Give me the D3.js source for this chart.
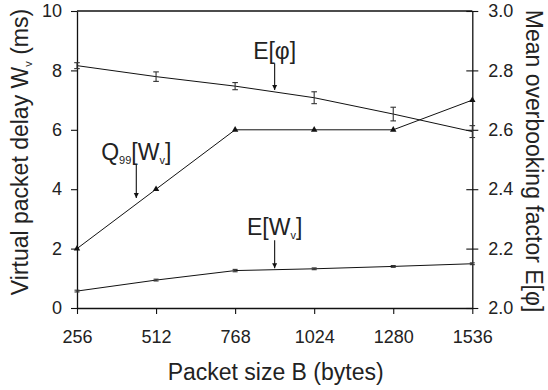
<!DOCTYPE html>
<html>
<head>
<meta charset="utf-8">
<script src="https://cdn.jsdelivr.net/npm/d3@7"></script>
<style>
  html, body { margin: 0; padding: 0; background: #fff; }
  svg { display: block; font-family: "Liberation Sans", Arial, sans-serif; }
</style>
</head>
<body>
<svg id="chart" width="548" height="390"></svg>
<script>
// Packet sizes (bytes)
const sizes = [256, 512, 768, 1024, 1280, 1536];
// 99% quantile of the virtual packet delay (ms)
const q99Delay = [2, 4, 6, 6, 6, 7];
// Mean virtual packet delay (ms) with confidence half-widths
const meanDelay = [0.57, 0.94, 1.26, 1.32, 1.40, 1.49];
const meanDelayErr = [0.03, 0.03, 0.04, 0.03, 0.03, 0.03];
// Mean overbooking factor with confidence half-widths
const meanPhi = [2.816, 2.779, 2.747, 2.708, 2.653, 2.594];
const meanPhiErr = [0.010, 0.016, 0.012, 0.020, 0.023, 0.020];
// Axis ticks
const xTicks = [256, 512, 768, 1024, 1280, 1536];
const leftTicks = [0, 2, 4, 6, 8, 10];
const rightTicks = [2.0, 2.2, 2.4, 2.6, 2.8, 3.0];

const svg = d3.select("#chart");
const m = { left: 77, right: 472.3, top: 11, bottom: 308 };

const x = d3.scaleLinear().domain([256, 1536]).range([m.left, m.right]);
const yL = d3.scaleLinear().domain([0, 10]).range([m.bottom, m.top]);
const yR = d3.scaleLinear().domain([2, 3]).range([m.bottom, m.top]);

const ink = "#111";

// Top frame line
svg.append("line")
  .attr("x1", m.left).attr("x2", m.right)
  .attr("y1", m.top).attr("y2", m.top)
  .attr("stroke", ink).attr("stroke-width", 1.3);

function styleAxis(g) {
  g.select(".domain").attr("stroke", ink).attr("stroke-width", 1.3);
  g.selectAll(".tick line").attr("stroke", ink).attr("stroke-width", 1.1);
  g.selectAll(".tick text").attr("fill", "#222")
    .style("font-size", "18px").style("font-family", "Liberation Sans, Arial, sans-serif");
}

// Bottom axis
svg.append("g")
  .attr("transform", `translate(0,${m.bottom})`)
  .call(d3.axisBottom(x).tickValues(xTicks).tickFormat(d3.format("d"))
        .tickSize(6).tickPadding(16).tickSizeOuter(0))
  .call(styleAxis);

// Left axis
svg.append("g")
  .attr("transform", `translate(${m.left},0)`)
  .call(d3.axisLeft(yL).tickValues(leftTicks).tickSize(6).tickPadding(9).tickSizeOuter(0))
  .call(styleAxis);

// Right axis, ticks crossing the axis line
const rAxis = svg.append("g")
  .attr("transform", `translate(${m.right},0)`)
  .call(d3.axisRight(yR).tickValues(rightTicks).tickFormat(d3.format(".1f"))
        .tickSize(6).tickPadding(10).tickSizeOuter(0))
  .call(styleAxis);
rAxis.selectAll(".tick line").attr("x1", -6);

// Series lines
const lineL = d3.line().x((d, i) => x(sizes[i])).y(d => yL(d));
const lineR = d3.line().x((d, i) => x(sizes[i])).y(d => yR(d));

svg.append("path").datum(q99Delay).attr("d", lineL)
  .attr("fill", "none").attr("stroke", ink).attr("stroke-width", 1);
svg.append("path").datum(meanDelay).attr("d", lineL)
  .attr("fill", "none").attr("stroke", ink).attr("stroke-width", 1);
svg.append("path").datum(meanPhi).attr("d", lineR)
  .attr("fill", "none").attr("stroke", ink).attr("stroke-width", 1);

// Triangle markers for the delay quantile
svg.selectAll(".tri").data(q99Delay).enter().append("path")
  .attr("class", "tri")
  .attr("d", d3.symbol().type(d3.symbolTriangle).size(18))
  .attr("transform", (d, i) => `translate(${x(sizes[i])},${yL(d)})`)
  .attr("fill", ink);

// Error bars
function errorBars(vals, errs, scale, cap, cls) {
  const g = svg.append("g").attr("class", cls)
    .attr("stroke", "#333").attr("stroke-width", 1.1).attr("fill", "none");
  vals.forEach((v, i) => {
    const cx = x(sizes[i]);
    const y1 = scale(v - errs[i]), y2 = scale(v + errs[i]);
    g.append("line").attr("x1", cx).attr("x2", cx).attr("y1", y1).attr("y2", y2);
    g.append("line").attr("x1", cx - cap).attr("x2", cx + cap).attr("y1", y1).attr("y2", y1);
    g.append("line").attr("x1", cx - cap).attr("x2", cx + cap).attr("y1", y2).attr("y2", y2);
  });
}
errorBars(meanPhi, meanPhiErr, yR, 2.8, "phi-err");
errorBars(meanDelay, meanDelayErr, yL, 2.5, "w-err");

// Arrowhead
svg.append("defs").append("marker")
  .attr("id", "arrow").attr("viewBox", "0 0 10 10")
  .attr("refX", 10).attr("refY", 5)
  .attr("markerWidth", 5).attr("markerHeight", 7)
  .attr("markerUnits", "userSpaceOnUse")
  .attr("orient", "auto")
  .append("path").attr("d", "M0,0 L10,5 L0,10 Z").attr("fill", ink);

// Annotations: label parts, x position (bytes), label baseline (left-axis units), gap above curve (px)
const annotations = [
  { parts: [["E[φ]", 0]], at: 896, base: 8.4, series: meanPhi, scale: yR, gap: 2 },
  { parts: [["Q", 0], ["99", 1], ["[W", 0], ["v", 1], ["]", 0]], at: 448, base: 4.98, series: q99Delay, scale: yL, gap: 6 },
  { parts: [["E[W", 0], ["v", 1], ["]", 0]], at: 896, base: 2.45, series: meanDelay, scale: yL, gap: 1.5 }
];

function curveAt(series, scale, xv) {
  const i = d3.bisectRight(sizes, xv) - 1;
  const t = (xv - sizes[i]) / (sizes[i + 1] - sizes[i]);
  return scale(series[i] + t * (series[i + 1] - series[i]));
}

annotations.forEach(a => {
  const cx = x(a.at);
  const by = yL(a.base);
  const t = svg.append("text")
    .attr("x", cx).attr("y", by)
    .attr("text-anchor", "middle")
    .style("font-size", "23px").attr("fill", "#222");
  let shifted = false;
  a.parts.forEach(([s, sub]) => {
    const ts = t.append("tspan").text(s);
    if (sub && !shifted) { ts.attr("dy", 4).style("font-size", "11px"); shifted = true; }
    else if (!sub && shifted) { ts.attr("dy", -4); shifted = false; }
    else if (sub) { ts.style("font-size", "11px"); }
  });
  svg.append("line")
    .attr("x1", cx).attr("x2", cx)
    .attr("y1", by + 5)
    .attr("y2", curveAt(a.series, a.scale, a.at) - a.gap)
    .attr("stroke", ink).attr("stroke-width", 1.1)
    .attr("marker-end", "url(#arrow)");
});

// Axis titles
svg.append("text")
  .attr("x", (m.left + m.right) / 2 + 1).attr("y", 372).attr("dy", "0.35em")
  .attr("text-anchor", "middle").style("font-size", "23px").attr("fill", "#222")
  .text("Packet size B (bytes)");

const leftTitle = svg.append("text")
  .attr("transform", "translate(20,152) rotate(-90)")
  .attr("dy", "0.35em").attr("text-anchor", "middle")
  .style("font-size", "23px").attr("fill", "#222");
leftTitle.append("tspan").text("Virtual packet delay W");
leftTitle.append("tspan").attr("dy", 4).style("font-size", "11px").text("v");
leftTitle.append("tspan").attr("dy", -4).text(" (ms)");

svg.append("text")
  .attr("transform", "translate(534,161) rotate(90)")
  .attr("dy", "0.35em").attr("text-anchor", "middle")
  .style("font-size", "23px").attr("fill", "#222")
  .text("Mean overbooking factor E[φ]");
</script>
</body>
</html>
